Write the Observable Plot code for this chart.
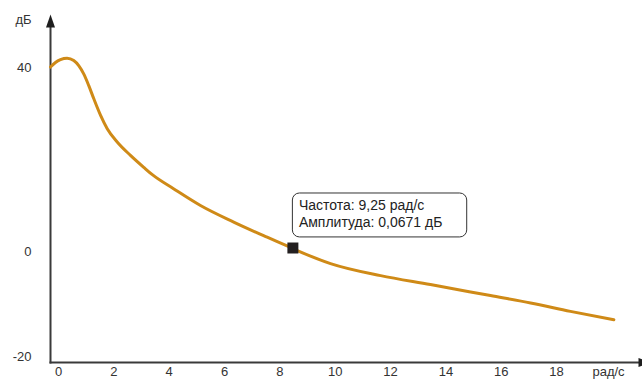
<!DOCTYPE html>
<html>
<head>
<meta charset="utf-8">
<script src="https://cdn.jsdelivr.net/npm/d3@7"></script>
<script src="https://cdn.jsdelivr.net/npm/@observablehq/plot@0.6"></script>
<style>
  html, body { margin: 0; padding: 0; background: #fff; overflow: hidden; }
  #chart { width: 642px; height: 380px; }
</style>
</head>
<body>
<div id="chart"></div>
<script>
// Frequency (рад/с) and amplitude (дБ)
const freq = [0, 0.18, 0.36, 0.60, 0.84, 1.02, 1.20, 1.38, 1.565, 1.81, 2.05, 2.41, 2.89, 3.37, 3.68, 4.46, 5.42, 6.62, 7.83, 8.55, 8.92, 10.12, 11.93, 13.73, 15.90, 17.35, 18.79, 20.36];
const amp  = [40.1, 41.1, 41.7, 42.0, 41.5, 40.4, 38.6, 36.1, 33.2, 29.6, 26.7, 23.8, 20.9, 18.3, 16.7, 13.6, 10.0, 6.4, 3.1, 1.2, 0.2, -2.3, -4.6, -6.3, -8.4, -9.8, -11.4, -13.0];

// Highlighted point
const markerFreq = [8.76];
const markerAmp = [0.76];
const tipLines = ["Частота: 9,25 рад/с", "Амплитуда: 0,0671 дБ"];

// Tick labels
const xTicks = [0, 2, 4, 6, 8, 10, 12, 14, 16, 18];
const yTicks = [40, 0, -20];
const xUnit = "рад/с";
const yUnit = "дБ";

const curve = freq.map((f, i) => ({f, a: amp[i]}));
const marker = markerFreq.map((f, i) => ({f, a: markerAmp[i], text: tipLines.join("\n")}));

// the reference axis is stretched below zero
const negStretch = 5.25 / 4.6;

const arrowSym = {
  draw(ctx) {
    ctx.moveTo(0, -6.5);
    ctx.lineTo(4.5, 6.5);
    ctx.lineTo(-4.5, 6.5);
    ctx.closePath();
  }
};

const axisColor = "#3a3a3a";
const textColor = "#333";

const chart = Plot.plot({
  width: 642,
  height: 380,
  marginLeft: 50,
  marginRight: 4,
  marginTop: 27,
  marginBottom: 18,
  style: {fontFamily: "'Liberation Sans', Arial, sans-serif", fontSize: "13px", color: textColor, background: "#fff"},
  x: {domain: [0, 20], range: [50, 50 + 20 * 27.67]},
  y: {axis: null, transform: v => (v < 0 ? v * negStretch : v), domain: [-20 * negStretch, 40], range: [356, 67]},
  marks: [
    Plot.frame({anchor: "left", stroke: axisColor, strokeWidth: 2}),
    Plot.frame({anchor: "bottom", stroke: axisColor, strokeWidth: 2}),
    Plot.dot([0], {x: null, y: null, frameAnchor: "top-left", dy: -6.5, symbol: arrowSym, fill: "#1e1e1e", stroke: null, r: 5}),
    Plot.dot([0], {x: null, y: null, frameAnchor: "bottom-right", dx: 6.5, rotate: 90, symbol: arrowSym, fill: "#1e1e1e", stroke: null, r: 5}),
    Plot.axisX({ticks: xTicks, tickSize: 0, tickPadding: 4, dx: 8, label: null, fontSize: 13}),
    Plot.text(yTicks, {frameAnchor: "left", y: d => d, text: d => String(d), textAnchor: "end", lineAnchor: "middle", dx: -19, fontSize: 13}),
    Plot.text([yUnit], {frameAnchor: "top-left", text: d => d, dx: -27, dy: -8, textAnchor: "middle", lineAnchor: "middle", fontSize: 13}),
    Plot.text([xUnit], {frameAnchor: "bottom-right", text: d => d, dx: -30, dy: 4, textAnchor: "middle", lineAnchor: "top", fontSize: 13}),
    Plot.line(curve, {x: "f", y: "a", curve: "monotone-x", stroke: "#cf8a17", strokeWidth: 3}),
    Plot.rect(marker, {x1: d => d.f, x2: d => d.f + 6.3, y1: d => d.a + 2.3, y2: d => d.a + 11.85, rx: 7, fill: "#fff", stroke: "#333", strokeWidth: 1}),
    Plot.text(marker, {x: "f", y: d => d.a + 11.85, text: "text", textAnchor: "start", lineAnchor: "top", dx: 6, dy: 4.5, lineHeight: 1.21, fontSize: 14, fill: "#222"}),
    Plot.dot(marker, {x: "f", y: "a", symbol: "square", r: 6.2, fill: "#231f20", stroke: null})
  ]
});
document.getElementById("chart").appendChild(chart);
</script>
</body>
</html>
